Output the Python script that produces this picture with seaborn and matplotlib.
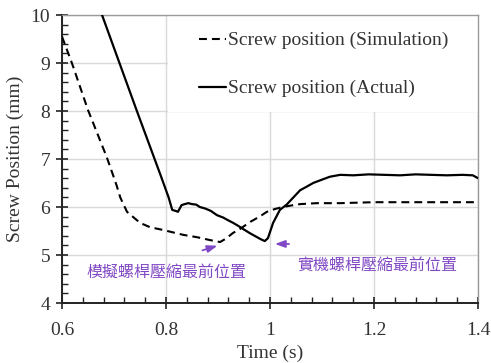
import matplotlib
matplotlib.use("Agg")
import matplotlib.pyplot as plt
from matplotlib.ticker import MultipleLocator, FuncFormatter
from matplotlib.patches import Rectangle
import seaborn as sns
import pandas as pd

# Simulated screw position (mm) vs time (s)
sim_time = [0.600, 0.619, 0.650, 0.686, 0.698, 0.705, 0.712, 0.725, 0.750,
            0.769, 0.795, 0.833, 0.860, 0.885, 0.904, 0.915, 0.929, 0.942, 0.962,
            0.980, 0.994, 1.010, 1.025, 1.040, 1.058, 1.090, 1.135, 1.200, 1.300, 1.400]
sim_pos = [9.55, 9.00, 8.02, 7.04, 6.67, 6.45, 6.20, 5.90, 5.67,
           5.58, 5.52, 5.42, 5.37, 5.31, 5.27, 5.34, 5.46, 5.54, 5.69,
           5.80, 5.90, 5.96, 6.00, 6.03, 6.06, 6.08, 6.08, 6.10, 6.10, 6.10]

# Measured screw position (mm) vs time (s)
act_time = [0.677, 0.744, 0.790, 0.805, 0.812, 0.818, 0.823, 0.830,
            0.836, 0.843, 0.850, 0.858, 0.865, 0.875, 0.886, 0.898, 0.910, 0.920,
            0.929, 0.940, 0.950, 0.962, 0.972, 0.982, 0.990, 0.996, 1.006, 1.019,
            1.032, 1.045, 1.058, 1.070, 1.083, 1.100, 1.115, 1.135, 1.160, 1.190,
            1.220, 1.250, 1.280, 1.310, 1.340, 1.370, 1.390, 1.400]
act_pos = [10.00, 8.00, 6.65, 6.20, 5.94, 5.92, 5.90, 6.04,
           6.06, 6.08, 6.06, 6.05, 6.00, 5.97, 5.92, 5.83, 5.78, 5.72,
           5.67, 5.60, 5.53, 5.45, 5.39, 5.33, 5.29, 5.35, 5.67, 5.94,
           6.05, 6.20, 6.35, 6.42, 6.50, 6.57, 6.63, 6.67, 6.66, 6.68,
           6.67, 6.66, 6.68, 6.67, 6.66, 6.67, 6.66, 6.60]

sim_label = "Screw position (Simulation)"
act_label = "Screw position (Actual)"
sim_note = "模擬螺桿壓縮最前位置"
act_note = "實機螺桿壓縮最前位置"

sns.set_theme(style="white")
plt.rcParams["font.family"] = ["Liberation Serif", "Noto Sans CJK TC"]
plt.rcParams["axes.unicode_minus"] = False

fig = plt.figure(figsize=(4.91, 3.63), dpi=100)
ax = fig.add_axes([62 / 491, 1 - 303 / 363, 416 / 491, 288 / 363])

sim_df = pd.DataFrame({"t": sim_time, "pos": sim_pos})
act_df = pd.DataFrame({"t": act_time, "pos": act_pos})

sns.lineplot(data=sim_df, x="t", y="pos", ax=ax, color="black", lw=1.5,
             sort=False, zorder=4)
sns.lineplot(data=act_df, x="t", y="pos", ax=ax, color="black", lw=1.6,
             sort=False, zorder=5)
ax.lines[0].set_dashes([3.8, 2.4])

ax.set_xlim(0.6, 1.4)
ax.set_ylim(4, 10)
ax.xaxis.set_major_locator(MultipleLocator(0.2))
ax.xaxis.set_minor_locator(MultipleLocator(0.04))
ax.yaxis.set_major_locator(MultipleLocator(1))
ax.yaxis.set_minor_locator(MultipleLocator(0.2))
ax.xaxis.set_major_formatter(FuncFormatter(lambda v, p: f"{v:.1f}".rstrip("0").rstrip(".")))
ax.yaxis.set_major_formatter(FuncFormatter(lambda v, p: f"{v:.0f}"))

ax.grid(True, which="major", color="#d9d9d9", lw=1.0)
ax.set_axisbelow(True)

for side in ("left", "bottom"):
    ax.spines[side].set_color("#222222")
    ax.spines[side].set_linewidth(1.4)
for side in ("top", "right"):
    ax.spines[side].set_color("#9a9a9a")
    ax.spines[side].set_linewidth(1.0)

ax.tick_params(which="both", bottom=True, left=True, top=False, right=False)
ax.tick_params(which="major", direction="inout", length=9, width=1.2,
               color="#222222", labelsize=14, labelcolor="#333333")
ax.tick_params(which="minor", direction="in", length=4.5, width=1.0,
               color="#222222")
ax.tick_params(axis="x", which="major", pad=9)
ax.tick_params(axis="y", which="major", pad=4)

ax.set_xlabel("Time (s)", fontsize=14, color="#333333", labelpad=4)
ax.set_ylabel("Screw Position (mm)", fontsize=14, color="#333333", labelpad=5)

# white panel behind the legend
ax.add_patch(Rectangle((0.255, 0.663), 0.745, 0.337, transform=ax.transAxes,
                       facecolor="white", edgecolor="none", zorder=2))
leg = ax.legend(handles=[ax.lines[0], ax.lines[1]], labels=[sim_label, act_label],
                loc="upper left", bbox_to_anchor=(0.33, 0.942), frameon=False,
                fontsize=14, handlelength=1.35, handletextpad=0.15,
                labelspacing=1.56, borderaxespad=0, borderpad=0)
for t in leg.get_texts():
    t.set_color("#333333")

purple = "#8048c4"
ax.annotate("", xy=(0.904, 5.21), xytext=(0.865, 5.08),
            arrowprops=dict(arrowstyle="-|>,head_length=0.5,head_width=0.18",
                            color=purple, lw=1.3), zorder=6)
ax.annotate("", xy=(1.004, 5.23), xytext=(1.042, 5.23),
            arrowprops=dict(arrowstyle="-|>,head_length=0.5,head_width=0.18",
                            color=purple, lw=1.3), zorder=6)
ax.text(0.800, 4.63, sim_note, color=purple, fontsize=11.5, ha="center",
        va="center", family=["Noto Sans CJK TC"], zorder=6)
ax.text(1.206, 4.79, act_note, color=purple, fontsize=11.5, ha="center",
        va="center", family=["Noto Sans CJK TC"], zorder=6)

fig.savefig("out.png", dpi=100)
